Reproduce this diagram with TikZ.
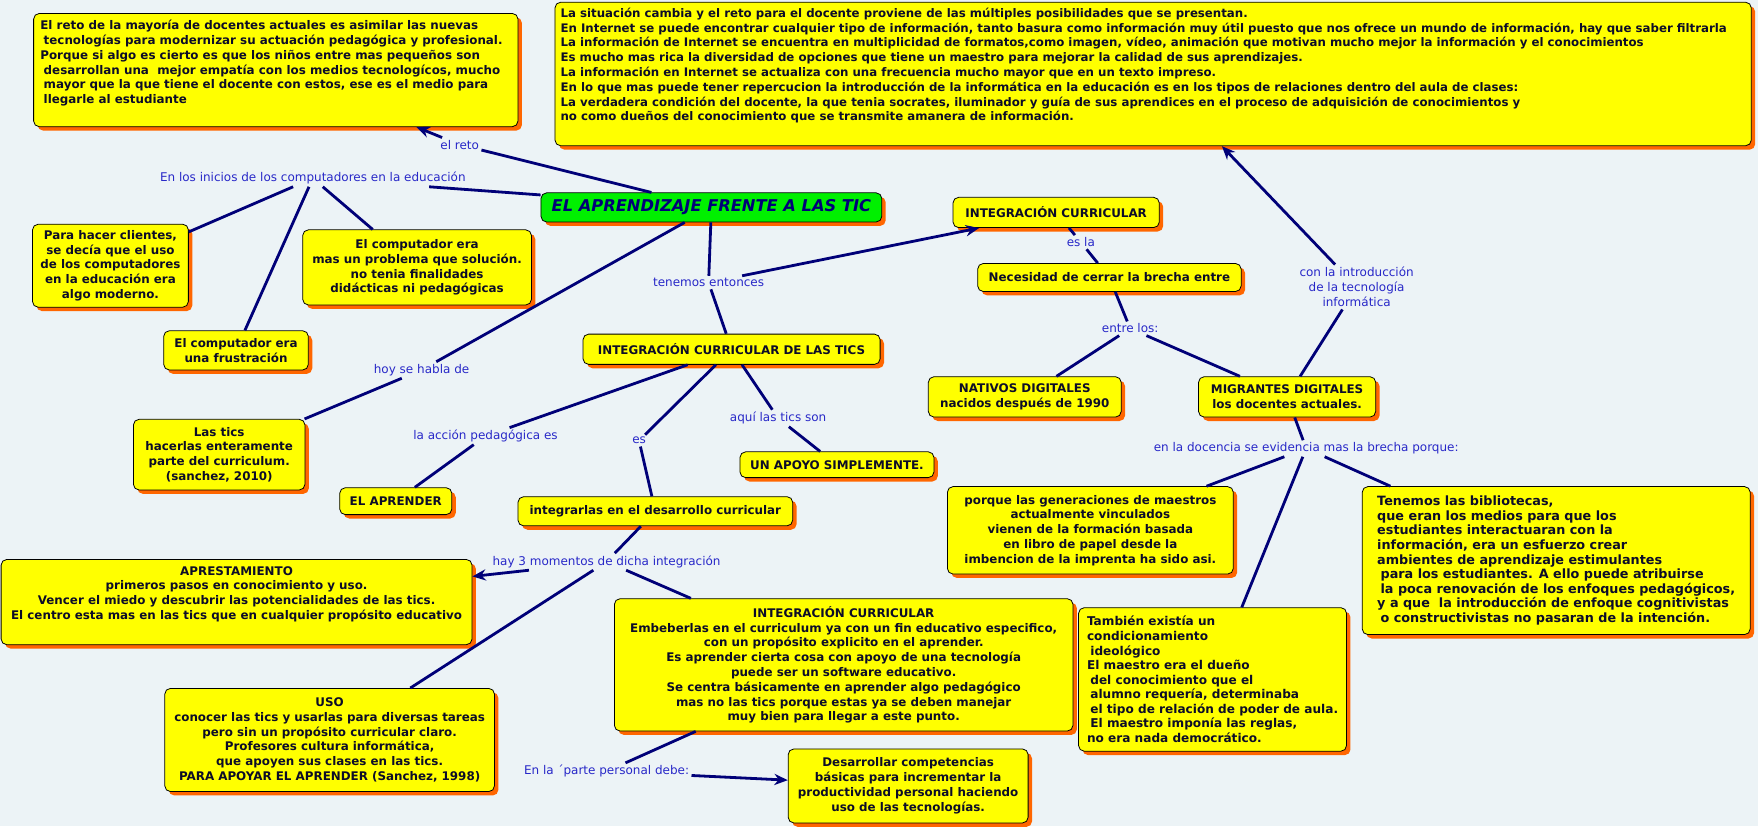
\documentclass[tikz,border=0pt]{standalone}
\usepackage{fontspec}
\setmainfont{DejaVu Sans}
\usetikzlibrary{arrows.meta,shadows}

\definecolor{mapbg}{RGB}{236,243,246}
\definecolor{boxyellow}{RGB}{255,255,0}
\definecolor{boxshadow}{RGB}{255,102,0}
\definecolor{boxink}{RGB}{12,12,40}
\definecolor{linknavy}{RGB}{0,0,120}
\definecolor{labelblue}{RGB}{40,40,200}
\definecolor{rootgreen}{RGB}{0,240,0}

\newcommand{\indt}{\hspace*{3pt}}

\begin{document}
\begin{tikzpicture}[x=1pt,y=-1pt,
    concept/.style={draw=black, line width=0.7pt, fill=boxyellow, rounded corners=5pt,
      drop shadow={shadow xshift=3.5pt, shadow yshift=-3.5pt, fill=boxshadow, opacity=1},
      text=boxink, font=\bfseries\fontsize{10.6}{13.2}\selectfont, inner sep=3pt, align=center},
    root/.style={concept, fill=rootgreen, text=linknavy,
      font=\bfseries\itshape\fontsize{14.5}{16}\selectfont},
    linkname/.style={text=labelblue, font=\fontsize{10.7}{13.5}\selectfont, inner sep=2pt, align=center},
    link/.style={draw=linknavy, line width=2.5pt},
    linkto/.style={link, -{Stealth[length=12pt,width=10pt]}}]
  \fill[mapbg] (0,0) rectangle (1568,737);
  \useasboundingbox (0,0) rectangle (1568,737);

  % concepts
  \node[root, minimum width=304pt, minimum height=26pt] (root) at (634.5,185) {EL APRENDIZAJE FRENTE A LAS TIC};
  \node[concept, inner sep=6pt] (reto) at (246,62.5) {\parbox[c][89pt][t]{420pt}{\raggedright
    El reto de la mayoría de docentes actuales es asimilar las nuevas\\
    \indt tecnologías para modernizar su actuación pedagógica y profesional.\\
    Porque si algo es cierto es que los niños entre mas pequeños son\\
    \indt desarrollan una\ \ mejor empatía con los medios tecnologícos, mucho\\
    \indt mayor que la que tiene el docente con estos, ese es el medio para\\
    \indt llegarle al estudiante}};
  \node[concept, inner xsep=5pt, inner ysep=5pt, font=\bfseries\fontsize{10.5}{13.2}\selectfont] (situacion) at (1028.5,66) {\parbox[c][118pt][t]{1057pt}{\raggedright
    La situación cambia y el reto para el docente proviene de las múltiples posibilidades que se presentan.\\
    En Internet se puede encontrar cualquier tipo de información, tanto basura como información muy útil puesto que nos ofrece un mundo de información, hay que saber filtrarla\\
    La información de Internet se encuentra en multiplicidad de formatos,como imagen, vídeo, animación que motivan mucho mejor la información y el conocimientos\\
    Es mucho mas rica la diversidad de opciones que tiene un maestro para mejorar la calidad de sus aprendizajes.\\
    La información en Internet se actualiza con una frecuencia mucho mayor que en un texto impreso.\\
    En lo que mas puede tener repercucion la introducción de la informática en la educación es en los tipos de relaciones dentro del aula de clases:\\
    La verdadera condición del docente, la que tenia socrates, iluminador y guía de sus aprendices en el proceso de adquisición de conocimientos y\\
    no como dueños del conocimiento que se transmite amanera de información.}};
  \node[concept, minimum width=139pt, minimum height=74pt] (clientes) at (98.5,237)
    {Para hacer clientes,\\ se decía que el uso\\ de los computadores\\ en la educación era\\ algo moderno.};
  \node[concept, minimum width=204pt, minimum height=67pt] (problema) at (372,238.5)
    {El computador era\\ mas un problema que solución.\\ no tenia finalidades\\ didácticas ni pedagógicas};
  \node[concept, minimum width=129pt, minimum height=35pt] (frustracion) at (210.5,312.5)
    {El computador era\\ una frustración};
  \node[concept, minimum width=153pt, minimum height=63pt] (curriculum) at (195.5,405.5)
    {Las tics\\ hacerlas enteramente\\ parte del curriculum.\\ (sanchez, 2010)};
  \node[concept, minimum width=100pt, minimum height=24pt] (aprender) at (353,447) {EL APRENDER};
  \node[concept, minimum width=265pt, minimum height=27pt] (tics) at (652.5,311.5) {INTEGRACIÓN CURRICULAR DE LAS TICS};
  \node[concept, minimum width=173pt, minimum height=23pt] (apoyo) at (746.5,414.5) {UN APOYO SIMPLEMENTE.};
  \node[concept, minimum width=245pt, minimum height=26pt] (desarrollo) at (584.5,456) {integrarlas en el desarrollo curricular};
  \node[concept, inner sep=6pt] (aprestamiento) at (211,537) {\parbox[c][64pt][t]{408pt}{\centering
    APRESTAMIENTO\\
    primeros pasos en conocimiento y uso.\\
    Vencer el miedo y descubrir las potencialidades de las tics.\\
    El centro esta mas en las tics que en cualquier propósito educativo}};
  \node[concept, minimum width=409pt, minimum height=118pt] (embeber) at (752.5,593)
    {INTEGRACIÓN CURRICULAR\\
    Embeberlas en el curriculum ya con un fin educativo especifico,\\
    con un propósito explicito en el aprender.\\
    Es aprender cierta cosa con apoyo de una tecnología\\
    puede ser un software educativo.\\
    Se centra básicamente en aprender algo pedagógico\\
    mas no las tics porque estas ya se deben manejar\\
    muy bien para llegar a este punto.};
  \node[concept, minimum width=294pt, minimum height=92pt] (uso) at (294,660)
    {USO\\
    conocer las tics y usarlas para diversas tareas\\
    pero sin un propósito curricular claro.\\
    Profesores cultura informática,\\
    que apoyen sus clases en las tics.\\
    PARA APOYAR EL APRENDER (Sanchez, 1998)};
  \node[concept, minimum width=214pt, minimum height=66pt] (competencias) at (810,701)
    {Desarrollar competencias\\ básicas para incrementar la\\ productividad personal haciendo\\ uso de las tecnologías.};
  \node[concept, minimum width=184pt, minimum height=27pt] (integracion) at (942,189.5) {INTEGRACIÓN CURRICULAR};
  \node[concept, minimum width=235pt, minimum height=25pt] (brecha) at (989.5,247.5) {Necesidad de cerrar la brecha entre};
  \node[concept, minimum width=172pt, minimum height=36pt] (nativos) at (914,354) {NATIVOS DIGITALES\\ nacidos después de 1990};
  \node[concept, minimum width=158pt, minimum height=36pt] (migrantes) at (1148,354) {MIGRANTES DIGITALES\\ los docentes actuales.};
  \node[concept, minimum width=255pt, minimum height=78pt] (generaciones) at (972.5,473)
    {porque las generaciones de maestros\\ actualmente vinculados\\ vienen de la formación basada\\ en libro de papel desde la\\ imbencion de la imprenta ha sido asi.};
  \node[concept, align=left, minimum width=346pt, minimum height=132pt,
    font=\bfseries\fontsize{11.4}{13}\selectfont] (bibliotecas) at (1388,500)
    {Tenemos las bibliotecas,\\
    que eran los medios para que los\\
    estudiantes interactuaran con la\\
    información, era un esfuerzo crear\\
    ambientes de aprendizaje estimulantes\\
    \indt para los estudiantes. A ello puede atribuirse\\
    \indt la poca renovación de los enfoques pedagógicos,\\
    y a que\ \ la introducción de enfoque cognitivistas\\
    \indt o constructivistas no pasaran de la intención.};
  \node[concept, align=left, minimum width=239pt, minimum height=128pt,
    font=\bfseries\fontsize{10.8}{13}\selectfont] (ideologico) at (1081.5,606)
    {También existía un\\
    condicionamiento\\
    \indt ideológico\\
    El maestro era el dueño\\
    \indt del conocimiento que el\\
    \indt alumno requería, determinaba\\
    \indt el tipo de relación de poder de aula.\\
    \indt El maestro imponía las reglas,\\
    no era nada democrático.};

  % linking phrases
  \node[linkname] (elreto) at (410,129) {el reto};
  \node[linkname] (inicios) at (279,159) {En los inicios de los computadores en la educación};
  \node[linkname] (tenemos) at (632,252) {tenemos entonces};
  \node[linkname] (hoy) at (376,330) {hoy se habla de};
  \node[linkname] (accion) at (433,389) {la acción pedagógica es};
  \node[linkname] (es) at (570,393) {es};
  \node[linkname] (aqui) at (694,373) {aquí las tics son};
  \node[linkname] (momentos) at (541,501) {hay 3 momentos de dicha integración};
  \node[linkname] (personal) at (541,688) {En la ´parte personal debe:};
  \node[linkname] (esla) at (964,216) {es la};
  \node[linkname] (entre) at (1008,293) {entre los:};
  \node[linkname] (intro) at (1210,256) {con la introducción\\ de la tecnología\\ informática};
  \node[linkname] (docencia) at (1165,400) {en la docencia se evidencia mas la brecha porque:};

  % links
  \draw[link] (root) -- (elreto);
  \draw[linkto] (elreto) -- (reto);
  \draw[link] (root) -- (inicios);
  \draw[link] (inicios) -- (clientes);
  \draw[link] (inicios) -- (frustracion);
  \draw[link] (inicios) -- (problema);
  \draw[link] (root) -- (hoy);
  \draw[link] (hoy) -- (curriculum);
  \draw[link] (root) -- (tenemos);
  \draw[linkto] (tenemos) -- (integracion);
  \draw[link] (tenemos) -- (tics);
  \draw[link] (tics) -- (accion);
  \draw[link] (accion) -- (aprender);
  \draw[link] (tics) -- (es);
  \draw[link] (es) -- (desarrollo);
  \draw[link] (tics) -- (aqui);
  \draw[link] (aqui) -- (apoyo);
  \draw[link] (desarrollo) -- (momentos);
  \draw[linkto] (momentos) -- (aprestamiento);
  \draw[link] (momentos) -- (uso);
  \draw[link] (momentos) -- (embeber);
  \draw[link] (embeber) -- (personal);
  \draw[linkto] (personal) -- (competencias);
  \draw[link] (integracion) -- (esla);
  \draw[link] (esla) -- (brecha);
  \draw[link] (brecha) -- (entre);
  \draw[link] (entre) -- (nativos);
  \draw[link] (entre) -- (migrantes);
  \draw[link] (migrantes) -- (intro);
  \draw[linkto] (intro) -- (situacion);
  \draw[link] (migrantes) -- (docencia);
  \draw[link] (docencia) -- (generaciones);
  \draw[link] (docencia) -- (ideologico);
  \draw[link] (docencia) -- (bibliotecas);
\end{tikzpicture}
\end{document}
